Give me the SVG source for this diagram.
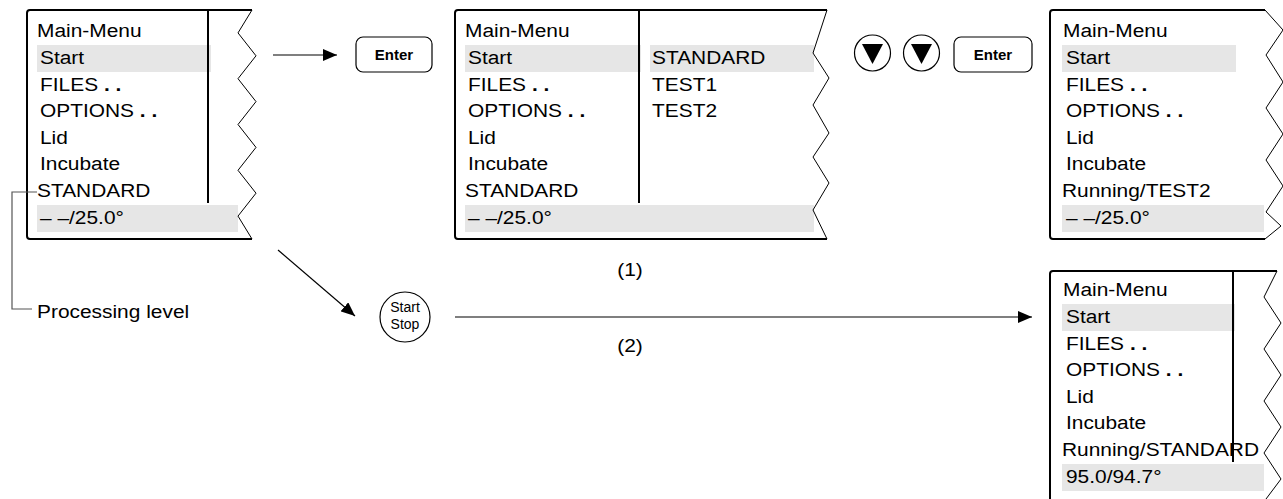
<svg xmlns="http://www.w3.org/2000/svg" width="1283" height="499" viewBox="0 0 1283 499">
<defs>
<style>
.t{font-family:"Liberation Sans",Arial,sans-serif;font-size:19px;fill:#000;transform-box:fill-box;transform-origin:0 0;transform:scaleX(1.1)}
.c{transform-origin:50% 0}
.d{font-weight:bold}
.btn{font-family:"Liberation Sans",Arial,sans-serif;font-size:15px;font-weight:bold;fill:#000}
.ss{font-family:"Liberation Sans",Arial,sans-serif;font-size:14px;fill:#000}
.hl{fill:#e6e6e6}
.frame{fill:none;stroke:#000;stroke-width:2}
.zig{fill:none;stroke:#000;stroke-width:1}
.div{stroke:#000;stroke-width:2}
.key{fill:#fff;stroke:#000;stroke-width:1.2}
.conn{stroke:#000;stroke-width:1.2;fill:none}
</style>
<marker id="ah" viewBox="0 0 14 12" refX="14" refY="6" markerWidth="14" markerHeight="12" markerUnits="userSpaceOnUse" orient="auto">
<path d="M0,0 L14,6 L0,12 Z" fill="#000"/>
</marker>
</defs>
<rect width="1283" height="499" fill="#fff"/>

<g id="panel1">
<rect class="hl" x="37" y="45" width="174" height="27"/>
<rect class="hl" x="37" y="205" width="201" height="27"/>
<path class="frame" d="M252,10 H30 Q27,10 27,13 V236 Q27,239 30,239 H252"/>
<path class="zig" d="M252,10 L238,32.9 L256,55.8 L238,78.7 L256,101.6 L238,124.5 L256,147.4 L238,170.3 L256,193.2 L238,216.1 L252,239"/>
<line class="div" x1="208" y1="11" x2="208" y2="203"/>
<text class="t" x="37" y="37.5">Main-Menu</text>
<text class="t" x="40" y="64.5">Start</text>
<text class="t" x="40" y="91">FILES<tspan class="d"> . .</tspan></text>
<text class="t" x="40" y="117.5">OPTIONS<tspan class="d"> . .</tspan></text>
<text class="t" x="40" y="144">Lid</text>
<text class="t" x="40" y="170.5">Incubate</text>
<text class="t" x="37" y="197">STANDARD</text>
<text class="t" x="40" y="224">– –/25.0°</text>
</g>

<g id="panel2">
<rect class="hl" x="465" y="45" width="176" height="27"/>
<rect class="hl" x="650" y="45" width="164" height="27"/>
<rect class="hl" x="465" y="205" width="349" height="27"/>
<path class="frame" d="M827,10 H458 Q455,10 455,13 V236 Q455,239 458,239 H827"/>
<path class="zig" d="M827,10 L813,53 L829,78 L813,105 L829,133 L813,157 L829,183 L813,210 L827,239"/>
<line class="div" x1="639" y1="11" x2="639" y2="203"/>
<text class="t" x="465" y="37.5">Main-Menu</text>
<text class="t" x="468" y="64.5">Start</text>
<text class="t" x="468" y="91">FILES<tspan class="d"> . .</tspan></text>
<text class="t" x="468" y="117.5">OPTIONS<tspan class="d"> . .</tspan></text>
<text class="t" x="468" y="144">Lid</text>
<text class="t" x="468" y="170.5">Incubate</text>
<text class="t" x="465" y="197">STANDARD</text>
<text class="t" x="468" y="224">– –/25.0°</text>
<text class="t" x="652" y="64.5">STANDARD</text>
<text class="t" x="652" y="91">TEST1</text>
<text class="t" x="652" y="117.5">TEST2</text>
</g>

<g id="panel3">
<rect class="hl" x="1062" y="45" width="174" height="27"/>
<rect class="hl" x="1062" y="205" width="202" height="27"/>
<path class="frame" d="M1265,10 H1053 Q1050,10 1050,13 V236 Q1050,239 1053,239 H1265"/>
<path class="zig" d="M1265,10 L1283,30 L1266,55 L1283,82 L1266,108 L1283,134 L1266,160 L1283,186 L1266,212 L1281,226 L1265,239"/>
<text class="t" x="1063" y="37.5">Main-Menu</text>
<text class="t" x="1066" y="64.5">Start</text>
<text class="t" x="1066" y="91">FILES<tspan class="d"> . .</tspan></text>
<text class="t" x="1066" y="117.5">OPTIONS<tspan class="d"> . .</tspan></text>
<text class="t" x="1066" y="144">Lid</text>
<text class="t" x="1066" y="170.5">Incubate</text>
<text class="t" x="1062" y="197">Running/TEST2</text>
<text class="t" x="1066" y="224">– –/25.0°</text>
</g>

<g id="panel4">
<rect class="hl" x="1062" y="304" width="173" height="27"/>
<rect class="hl" x="1062" y="464" width="202" height="27"/>
<path class="frame" d="M1277,271 H1053 Q1050,271 1050,274 V499"/>
<path class="zig" d="M1277,271 L1264,297 L1281,323 L1264,349 L1281,375 L1264,401 L1281,427 L1264,453 L1281,479 L1266,499"/>
<line class="div" x1="1233" y1="272" x2="1233" y2="462"/>
<text class="t" x="1063" y="296.5">Main-Menu</text>
<text class="t" x="1066" y="323.5">Start</text>
<text class="t" x="1066" y="350">FILES<tspan class="d"> . .</tspan></text>
<text class="t" x="1066" y="376.5">OPTIONS<tspan class="d"> . .</tspan></text>
<text class="t" x="1066" y="403">Lid</text>
<text class="t" x="1066" y="429.5">Incubate</text>
<text class="t" x="1062" y="456">Running/STANDARD</text>
<text class="t" x="1066" y="483">95.0/94.7°</text>
</g>

<g id="enter1">
<rect class="key" x="356" y="37" width="76" height="35" rx="7"/>
<text class="btn" x="394" y="60" text-anchor="middle">Enter</text>
</g>

<g id="down1">
<circle class="key" cx="872.5" cy="53" r="18"/>
<path d="M862,44 L883,44 L872.5,64 Z" fill="#000"/>
</g>
<g id="down2">
<circle class="key" cx="921.5" cy="53" r="18"/>
<path d="M911,44 L932,44 L921.5,64 Z" fill="#000"/>
</g>

<g id="enter2">
<rect class="key" x="954" y="37" width="78" height="35" rx="7"/>
<text class="btn" x="993" y="60" text-anchor="middle">Enter</text>
</g>

<g id="startstop">
<circle class="key" cx="405" cy="317" r="25"/>
<text class="ss" x="405" y="312" text-anchor="middle">Start</text>
<text class="ss" x="405" y="329" text-anchor="middle">Stop</text>
</g>

<g id="labels">
<text class="t c" x="630" y="276" text-anchor="middle">(1)</text>
<text class="t c" x="630" y="352" text-anchor="middle">(2)</text>
<text class="t" x="37" y="318">Processing level</text>
</g>

<g id="connectors">
<line class="conn" x1="273" y1="55" x2="337" y2="55" marker-end="url(#ah)"/>
<line class="conn" x1="278" y1="250" x2="355" y2="316" marker-end="url(#ah)"/>
<line class="conn" x1="455" y1="317" x2="1032" y2="317" marker-end="url(#ah)"/>
<polyline fill="none" stroke="#555" stroke-width="1.2" points="37,192 12,192 12,309 32,309"/>
</g>
</svg>
